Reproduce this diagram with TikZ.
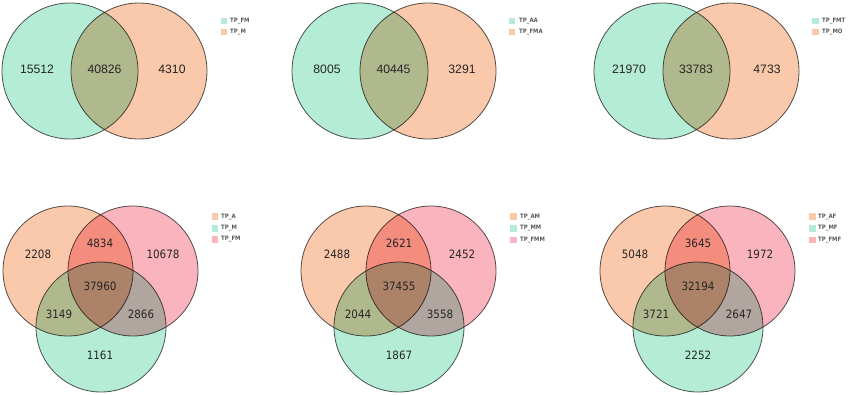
\documentclass[tikz,border=0pt]{standalone}
\usepackage{fontspec}
\setmainfont{Liberation Sans}
\newfontfamily\bfont{DejaVu Sans Condensed}
\newfontfamily\lfont{DejaVu Sans Condensed}
\definecolor{cg}{HTML}{B4ECD6}
\definecolor{co}{HTML}{FAC8AA}
\definecolor{cp}{HTML}{FAB4BE}
\definecolor{edge}{HTML}{555555}
\begin{document}
\begin{tikzpicture}[x=1pt,y=-1pt,
  vc/.style={circle, inner sep=0, minimum size=136pt, draw=edge, line width=0.8pt},
  vt/.style={circle, inner sep=0, minimum size=130pt, draw=edge, line width=0.8pt},
  num/.style={font=\fontsize{12.2}{14}\selectfont, text=black!85, inner sep=0},
  numb/.style={font=\bfont\fontsize{11.5}{13}\selectfont, text=black!85, inner sep=0},
  sq/.style={minimum width=6.5pt, minimum height=6.5pt, inner sep=0, anchor=west},
  leg/.style={font=\lfont\bfseries\fontsize{6}{7}\selectfont, text=black!65, anchor=west, inner sep=0}]
\useasboundingbox[fill=white] (0,0) rectangle (850,395);

% ---------- top row ----------
\begin{scope}[blend group=multiply]
  \node[vc, fill=cg] (a1) at (70,71) {};
  \node[vc, fill=co] (a2) at (139,71) {};
  \node[vc, fill=cg] (b1) at (360,71) {};
  \node[vc, fill=co] (b2) at (428,71) {};
  \node[vc, fill=cg] (c1) at (662,71) {};
  \node[vc, fill=co] (c2) at (731,71) {};
\end{scope}
\node[num] (a1n) at (37,69.5) {15512};
\node[num] (a12n) at (104.5,69.5) {40826};
\node[num] (a2n) at (172,69.5) {4310};
\node[num] (b1n) at (327,69.5) {8005};
\node[num] (b12n) at (393.5,69.5) {40445};
\node[num] (b2n) at (462,69.5) {3291};
\node[num] (c1n) at (629,69.5) {21970};
\node[num] (c12n) at (696,69.5) {33783};
\node[num] (c2n) at (767,69.5) {4733};

% top legends
\node[sq, fill=cg] (la1) at (220.5,21) {};
\node[sq, fill=co] (la2) at (220.5,32) {};
\node[leg] (lat1) at (230,21) {TP\_FM};
\node[leg] (lat2) at (230,32) {TP\_M};
\node[sq, fill=cg] (lb1) at (508.5,21) {};
\node[sq, fill=co] (lb2) at (508.5,32) {};
\node[leg] (lbt1) at (519,21) {TP\_AA};
\node[leg] (lbt2) at (519,32) {TP\_FMA};
\node[sq, fill=cg] (lc1) at (812,21) {};
\node[sq, fill=co] (lc2) at (812,32) {};
\node[leg] (lct1) at (822,21) {TP\_FMT};
\node[leg] (lct2) at (822,32) {TP\_MO};

% ---------- bottom row ----------
\begin{scope}[blend group=multiply]
  \node[vt, fill=co] (d1) at (68,271) {};
  \node[vt, fill=cp] (d2) at (133,271) {};
  \node[vt, fill=cg] (d3) at (101,327) {};
  \node[vt, fill=co] (e1) at (366,271) {};
  \node[vt, fill=cp] (e2) at (431,271) {};
  \node[vt, fill=cg] (e3) at (399,327) {};
  \node[vt, fill=co] (f1) at (665,271) {};
  \node[vt, fill=cp] (f2) at (730,271) {};
  \node[vt, fill=cg] (f3) at (698,327) {};
\end{scope}
\node[numb] (d1n) at (38,254) {2208};
\node[numb] (d12n) at (100,243) {4834};
\node[numb] (d2n) at (163,254) {10678};
\node[numb] (d123n) at (100,286) {37960};
\node[numb] (d13n) at (59,314) {3149};
\node[numb] (d23n) at (141,314) {2866};
\node[numb] (d3n) at (100,355) {1161};

\node[numb] (e1n) at (337,254) {2488};
\node[numb] (e12n) at (399,243) {2621};
\node[numb] (e2n) at (462,254) {2452};
\node[numb] (e123n) at (399,286) {37455};
\node[numb] (e13n) at (358,314) {2044};
\node[numb] (e23n) at (440,314) {3558};
\node[numb] (e3n) at (399,355) {1867};

\node[numb] (f1n) at (635,254) {5048};
\node[numb] (f12n) at (698,243) {3645};
\node[numb] (f2n) at (760,254) {1972};
\node[numb] (f123n) at (698,286) {32194};
\node[numb] (f13n) at (656,314) {3721};
\node[numb] (f23n) at (739,314) {2647};
\node[numb] (f3n) at (698,355) {2252};

% bottom legends
\node[sq, fill=co] (ld1) at (211.5,216.7) {};
\node[sq, fill=cg] (ld2) at (211.5,228.3) {};
\node[sq, fill=cp] (ld3) at (211.5,239.5) {};
\node[leg] (ldt1) at (221,216.7) {TP\_A};
\node[leg] (ldt2) at (221,228.3) {TP\_M};
\node[leg] (ldt3) at (221,239.5) {TP\_FM};
\node[sq, fill=co] (le1) at (510,216.7) {};
\node[sq, fill=cg] (le2) at (510,228.5) {};
\node[sq, fill=cp] (le3) at (510,240) {};
\node[leg] (let1) at (520,216.7) {TP\_AM};
\node[leg] (let2) at (520,228.5) {TP\_MM};
\node[leg] (let3) at (520,240) {TP\_FMM};
\node[sq, fill=co] (lf1) at (809,216.7) {};
\node[sq, fill=cg] (lf2) at (809,228.3) {};
\node[sq, fill=cp] (lf3) at (809,240) {};
\node[leg] (lft1) at (818,216.7) {TP\_AF};
\node[leg] (lft2) at (818,228.3) {TP\_MF};
\node[leg] (lft3) at (818,240) {TP\_FMF};
\end{tikzpicture}
\end{document}
